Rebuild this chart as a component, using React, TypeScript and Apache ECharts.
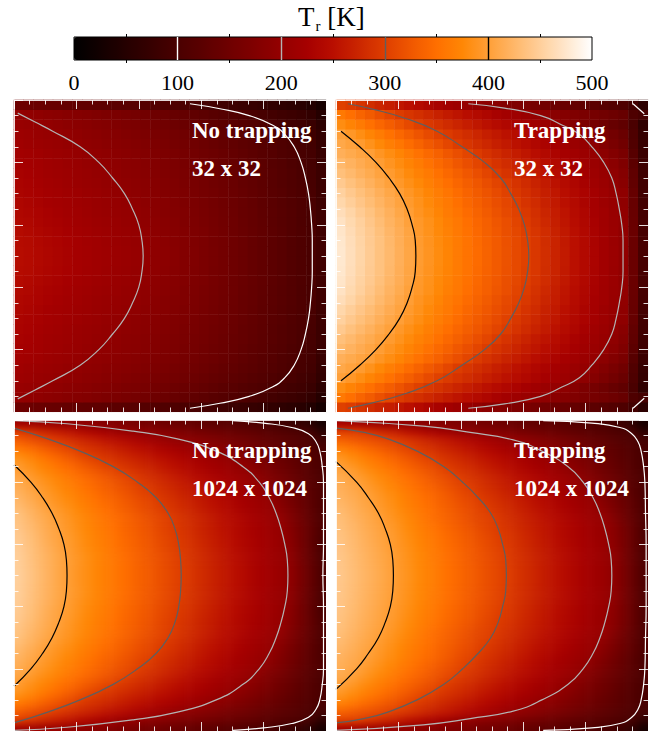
import React, { useEffect, useRef } from "react";
import * as echarts from "echarts";

// Colour table: evenly spaced from 0 K to 500 K
const paletteStops = ["#000000","#120000","#250000","#370000","#4a0000","#5c0000","#6f0000","#810000","#940000","#a60000","#b90e00","#cb2600","#de3e00","#f05700","#ff6f00","#ff8705","#ff9f37","#ffb769","#ffcf9b","#ffe7cd","#ffffff"];
const colorbarTicks = [0, 100, 200, 300, 400, 500];
const contourLevels = [100, 200, 300, 400];
const contourColors: Record<number, string> = { 100: "#ffffff", 200: "#b4b4b4", 300: "#5f5f5f", 400: "#000000" };
const panelLabels = [
  ["No trapping", "32 x 32"], ["Trapping", "32 x 32"],
  ["No trapping", "1024 x 1024"], ["Trapping", "1024 x 1024"],
];

// Upper half of each panel, rows from the edge towards the midplane.
const noTrapping32 = [
[148,146,144,141,139,136,133,131,129,126,124,121,118,115,112,108,105,101,98,94,90,86,82,78,74,70,66,62,58,54,45,30],
[199,196,193,190,187,183,180,177,173,170,166,162,158,154,149,145,140,135,130,125,120,115,110,105,100,96,91,86,81,76,68,50],
[206,203,200,197,194,190,187,184,180,177,173,170,166,162,157,153,148,143,139,134,129,124,119,114,110,105,100,95,90,85,78,60],
[213,210,206,203,200,196,193,190,187,183,180,176,172,168,164,160,155,151,146,141,136,131,126,122,117,112,107,102,97,91,84,68],
[216,213,210,207,204,200,197,194,191,187,184,181,177,173,169,165,160,155,151,146,141,136,131,126,122,117,112,107,101,96,89,72],
[221,218,215,211,208,205,201,198,195,192,188,185,181,177,173,169,165,160,155,150,146,141,136,130,125,120,115,109,104,98,92,76],
[225,222,219,215,212,208,205,202,198,195,192,188,185,181,177,172,168,163,158,153,148,143,138,133,128,123,117,112,106,100,94,79],
[228,225,221,217,214,211,207,204,200,197,194,190,187,183,179,174,170,165,160,155,150,145,140,135,130,125,119,114,108,102,95,81],
[230,227,223,220,217,213,209,206,203,199,196,192,189,185,181,176,172,167,162,157,152,147,142,136,131,126,120,114,109,103,96,82],
[232,229,226,222,219,215,212,208,205,201,198,195,191,187,183,178,174,169,164,159,154,149,144,138,133,127,121,116,110,104,97,83],
[235,232,228,224,221,218,214,211,207,204,201,197,194,190,185,181,176,171,166,161,155,150,145,139,134,128,122,117,111,105,98,84],
[237,234,231,227,224,220,216,213,209,206,203,200,196,192,187,182,178,173,168,163,157,152,146,140,135,129,123,118,112,106,99,85],
[240,237,233,229,226,222,218,215,211,208,205,202,198,194,189,184,180,174,170,164,158,153,147,141,136,130,124,118,112,106,99,86],
[243,240,236,232,229,225,221,218,214,211,207,204,200,196,191,186,182,176,171,166,160,154,148,142,137,131,125,119,113,107,100,87],
[245,242,238,234,231,227,223,220,216,213,209,206,202,198,193,188,183,177,172,166,160,155,149,143,137,131,125,119,113,107,100,87],
[246,243,239,235,232,228,224,221,217,214,210,207,203,199,194,189,184,178,173,167,161,155,149,143,137,131,125,119,113,107,100,88],
];
const trapping32 = [
[302,297,290,282,274,266,258,251,243,235,228,220,212,204,197,190,184,178,172,166,160,154,148,142,136,130,124,118,112,106,90,60],
[360,350,339,329,318,308,298,291,284,277,270,263,256,249,242,235,228,221,214,207,200,193,187,180,173,167,160,154,147,140,105,95],
[381,371,361,351,341,331,321,311,302,294,287,280,273,266,259,252,245,238,231,224,216,209,202,192,181,170,160,150,140,130,100,65],
[401,392,382,372,362,352,342,332,322,312,303,296,289,282,275,267,260,253,246,239,232,225,218,211,202,192,180,168,155,143,105,72],
[409,403,396,386,376,366,357,347,337,327,318,308,298,291,283,276,268,261,253,246,238,231,223,216,209,202,190,178,165,153,110,75],
[417,411,405,400,390,381,372,363,353,344,335,325,316,307,296,288,280,272,265,257,249,241,233,225,218,210,202,190,177,165,118,80],
[427,420,413,406,398,389,380,371,362,353,344,335,325,316,307,298,289,281,273,265,257,249,241,233,225,217,209,201,188,174,125,84],
[434,427,419,412,404,396,387,378,369,361,352,343,334,325,316,307,297,289,280,272,263,255,246,238,229,221,212,204,194,180,130,86],
[444,435,427,419,410,402,393,384,376,367,358,350,341,332,324,315,306,298,289,280,271,262,253,244,235,226,217,208,198,185,133,88],
[452,443,434,426,417,408,400,391,382,373,365,356,347,338,329,321,312,303,294,285,276,267,258,249,240,231,222,213,203,193,138,90],
[458,449,440,431,422,413,404,395,386,377,368,360,351,342,333,325,316,308,299,289,280,270,261,251,242,232,223,213,204,194,140,92],
[465,456,446,437,427,418,408,399,389,381,372,363,355,346,337,329,320,311,303,294,284,274,265,255,245,235,225,216,206,196,141,94],
[470,460,451,441,431,421,412,402,393,385,376,367,359,350,341,333,324,316,306,297,287,277,267,257,247,237,227,217,207,197,142,95],
[473,463,453,444,434,424,415,405,394,386,377,369,360,352,343,334,326,317,309,300,291,281,270,260,250,239,229,218,208,196,143,96],
[475,465,455,445,436,426,416,406,396,388,379,371,362,354,345,336,328,319,311,302,293,282,272,261,251,241,230,220,209,198,144,97],
[476,466,456,446,436,427,417,407,397,389,380,372,363,354,346,337,328,320,311,303,293,283,272,262,251,241,231,220,210,198,144,97],
];
const noTrapping1024 = [
[214,211,208,205,202,198,193,188,183,178,173,168,163,158,154,149,144,139,134,129,125,120,115,110,105,100,92,85,78,70,55,30],
[299,292,283,274,266,257,248,240,231,223,214,206,198,192,187,181,175,170,164,159,153,148,142,136,131,125,120,114,109,103,90,60],
[326,317,309,301,293,285,277,269,261,253,246,238,230,222,214,206,198,191,184,177,171,164,157,150,143,136,129,122,116,109,102,85],
[355,345,335,325,315,305,296,288,281,273,266,259,251,244,236,229,222,214,207,200,191,183,174,166,157,149,140,132,123,115,106,97],
[379,369,357,346,335,324,313,302,294,287,280,272,265,258,250,243,236,228,221,214,206,198,189,179,169,159,149,139,129,120,110,100],
[393,382,372,362,351,341,330,320,310,299,292,285,277,270,262,255,247,240,232,225,217,210,202,192,180,169,158,146,135,124,112,101],
[399,390,380,371,361,352,343,333,324,314,305,296,288,280,272,264,256,248,240,232,224,216,209,201,189,177,164,152,139,127,114,102],
[408,399,389,380,371,362,353,344,335,326,317,308,298,289,281,273,265,257,248,240,232,224,216,207,199,185,171,158,144,130,116,103],
[415,405,396,387,378,369,360,351,342,333,324,316,307,298,290,281,273,265,257,249,241,233,224,216,208,199,183,168,152,136,121,105],
[421,411,402,393,384,375,366,357,348,339,331,322,313,304,295,287,279,270,262,254,245,237,228,220,211,203,189,172,155,139,122,105],
[426,416,406,397,388,380,371,362,354,345,337,328,319,311,302,293,285,276,268,259,251,242,234,225,216,208,197,179,160,142,123,105],
[432,422,412,403,394,385,376,367,358,350,341,332,323,314,306,297,289,280,272,263,254,246,237,228,220,211,202,186,166,146,126,106],
[436,426,416,407,397,389,380,371,363,354,346,337,328,320,311,303,294,286,277,268,259,250,242,233,224,215,206,193,171,150,128,106],
[439,429,420,410,401,391,382,374,365,357,348,339,331,322,313,304,296,287,279,270,261,252,244,235,226,218,209,200,176,153,130,107],
[443,433,423,413,404,394,385,376,367,359,350,341,333,324,315,306,298,289,280,271,263,254,245,236,228,219,210,202,180,155,130,105],
[445,435,425,414,405,396,387,378,369,361,352,343,335,326,317,309,300,292,283,274,265,256,247,238,230,221,212,203,183,156,129,101],
[447,437,427,417,407,397,388,379,371,362,353,345,336,328,319,310,302,294,285,276,267,258,249,240,231,222,213,204,186,158,131,103],
[448,438,428,418,408,399,390,381,372,364,355,346,338,329,321,312,303,295,286,277,268,259,250,241,231,222,212,203,187,159,131,103],
[449,439,429,419,409,399,391,382,373,365,356,348,339,330,322,313,304,296,287,278,269,260,251,242,232,223,214,205,189,161,133,105],
[450,440,430,420,409,399,390,382,373,365,356,348,339,331,322,314,305,297,288,279,270,261,252,243,233,224,215,206,191,162,134,105],
];
const trapping1024 = [
[222,218,214,210,206,201,196,192,187,183,178,174,169,165,160,155,151,146,141,136,132,128,123,118,113,109,104,98,90,80,60,30],
[304,302,299,290,280,271,262,252,243,233,224,215,202,196,190,184,178,173,167,161,155,150,144,138,132,126,120,115,109,103,92,62],
[332,326,320,315,309,303,295,287,279,271,263,255,246,238,230,222,214,206,197,189,182,174,166,158,150,142,134,126,118,110,103,90],
[364,355,346,337,329,320,311,303,294,286,278,270,262,254,246,238,230,222,214,206,198,190,181,172,163,154,145,136,127,118,108,98],
[385,376,366,356,347,337,328,318,308,300,291,283,275,267,259,251,243,235,227,219,211,203,193,183,172,162,151,141,130,120,110,99],
[397,387,378,368,359,349,340,331,321,312,302,293,285,277,269,261,253,245,237,229,220,212,204,194,182,170,158,147,135,123,111,100],
[406,398,388,379,369,360,350,341,332,322,313,303,294,286,278,270,261,253,244,236,228,219,211,202,191,178,165,152,140,127,114,101],
[412,404,396,386,377,368,358,349,340,331,321,312,302,294,286,277,269,261,252,244,235,227,219,210,201,187,173,159,145,131,116,103],
[417,410,402,393,384,375,365,356,347,338,328,319,310,300,292,283,275,266,258,250,241,233,224,216,207,197,182,166,150,135,119,103],
[420,413,406,399,390,381,372,363,354,345,336,327,316,307,298,289,281,272,264,255,246,238,229,221,212,204,190,173,155,138,120,103],
[424,417,409,402,393,384,375,366,357,348,339,330,321,312,303,295,286,278,269,261,252,244,235,227,218,210,201,183,164,145,126,106],
[428,420,412,405,396,387,378,369,360,352,343,334,325,316,307,299,291,282,273,265,256,248,239,230,222,213,205,190,170,149,128,106],
[431,423,415,407,399,390,381,372,362,353,344,335,327,318,309,303,294,285,277,268,260,251,243,234,226,217,208,200,176,153,130,107],
[434,426,418,410,403,394,385,376,367,358,349,340,331,322,313,305,298,289,280,272,264,256,247,238,230,221,212,204,186,160,134,107],
[436,428,420,413,405,397,388,379,370,361,353,344,335,327,318,309,300,293,284,275,266,257,248,239,231,222,213,204,187,162,135,107],
[438,430,422,414,406,398,390,381,372,364,355,346,337,329,320,312,303,295,286,277,268,259,250,241,232,223,214,206,190,164,136,108],
[439,431,423,416,408,399,391,383,374,366,357,348,340,331,323,314,306,297,288,279,270,261,252,243,234,225,216,207,192,165,136,108],
[440,432,424,416,408,401,392,383,375,366,358,349,341,332,323,315,306,298,289,280,271,262,253,243,234,225,216,206,193,165,137,108],
[441,433,425,418,410,402,393,385,376,368,359,350,342,333,325,316,308,299,290,281,272,263,254,245,235,226,217,208,194,166,137,108],
[442,434,426,419,411,403,394,386,377,369,360,351,343,334,326,317,309,300,291,282,273,263,254,245,235,226,217,208,194,166,137,108],
];

// Isotherms in axis units as [x, distance from the midplane]; each curve is mirrored about y = 2.5.
const contoursNoTrapping32: Record<number, number[][]> = {
  100: [[4.78,0],[4.78,.25],[4.77,.5],[4.75,.75],[4.72,1],[4.67,1.25],[4.60,1.5],[4.49,1.75],[4.34,1.95],[4.14,2.1],[3.77,2.25],[3.30,2.36],[2.82,2.44]],
  200: [[2.07,0],[2.05,.25],[2.00,.5],[1.90,.75],[1.77,1],[1.58,1.25],[1.36,1.5],[1.06,1.75],[.62,2],[.33,2.15],[.06,2.29]],
};
const contoursTrapping32: Record<number, number[][]> = {
  100: [[4.76,2.44],[4.94,2.28]],
  200: [[4.60,0],[4.60,.25],[4.58,.5],[4.54,.75],[4.49,1],[4.42,1.25],[4.29,1.5],[4.10,1.75],[3.90,1.95],[3.62,2.1],[3.28,2.25],[2.70,2.37],[2.12,2.44]],
  300: [[3.09,0],[3.07,.25],[3.02,.5],[2.93,.75],[2.80,1],[2.64,1.25],[2.38,1.5],[2.02,1.75],[1.62,2],[1.13,2.2],[.60,2.35],[.19,2.44]],
  400: [[1.28,0],[1.27,.25],[1.22,.5],[1.14,.75],[1.02,1],[.85,1.25],[.64,1.5],[.38,1.75],[.08,2]],
};
const contoursNoTrapping1024: Record<number, number[][]> = {
  100: [[4.95,0],[4.96,.5],[4.96,1],[4.96,1.5],[4.94,1.75],[4.90,2],[4.84,2.15],[4.72,2.28],[4.45,2.38],[4.00,2.45],[3.51,2.49]],
  200: [[4.39,0],[4.38,.25],[4.34,.5],[4.28,.75],[4.20,1],[4.09,1.25],[3.93,1.5],[3.67,1.75],[3.24,2],[2.60,2.2],[1.91,2.32],[.85,2.44],[0,2.49]],
  300: [[2.68,0],[2.67,.25],[2.64,.5],[2.58,.75],[2.47,1],[2.28,1.25],[1.98,1.5],[1.59,1.75],[1.06,2],[.53,2.2],[0,2.37]],
  400: [[.85,0],[.84,.25],[.80,.5],[.72,.75],[.61,1],[.46,1.25],[.27,1.5],[0,1.78]],
};
const contoursTrapping1024: Record<number, number[][]> = {
  100: [[4.97,0],[4.97,.5],[4.96,1],[4.95,1.5],[4.93,1.75],[4.89,2],[4.84,2.15],[4.74,2.28],[4.55,2.38],[4.10,2.45],[3.32,2.49]],
  200: [[4.42,0],[4.41,.25],[4.37,.5],[4.31,.75],[4.23,1],[4.12,1.25],[3.96,1.5],[3.72,1.75],[3.30,2],[2.84,2.18],[2.15,2.3],[1.40,2.4],[0,2.49]],
  300: [[2.73,0],[2.72,.25],[2.67,.5],[2.60,.75],[2.48,1],[2.28,1.25],[2.03,1.5],[1.73,1.75],[1.30,2],[.82,2.2],[.45,2.3],[0,2.37]],
  400: [[.92,0],[.91,.25],[.87,.5],[.79,.75],[.68,1],[.52,1.25],[.33,1.5],[0,1.83]],
};

const panelGrids = [noTrapping32, trapping32, noTrapping1024, trapping1024];
const panelContours = [contoursNoTrapping32, contoursTrapping32, contoursNoTrapping1024, contoursTrapping1024];

const SERIF = "'Liberation Serif', 'Times New Roman', serif";
const PANEL_SIZE = 312;
const panelOrigins = [[14, 100], [336, 100], [14, 420], [336, 420]];
const HIGH_RES_PANELS = [2, 3];

const tickLine = { show: true, lineStyle: { color: "#ffffff", width: 1, opacity: 0.85 } };

function cellsOf(rows: number[][]) {
  const cells: number[][] = [];
  rows.forEach((r, j) => r.forEach((v, i) => cells.push([i, j, v])));
  return cells;
}

function buildOption() {
  const grid: any[] = [];
  const xAxis: any[] = [];
  const yAxis: any[] = [];
  const series: any[] = [];
  const graphic: any[] = [];

  panelGrids.forEach((half, p) => {
    const [left, top] = panelOrigins[p];
    grid.push({ left, top, width: PANEL_SIZE, height: PANEL_SIZE, containLabel: false });
    const rows = half.concat([...half].reverse());
    const base = xAxis.length;
    xAxis.push({ type: "category", gridIndex: p, show: false, data: half[0].map((_, i) => String(i)) });
    yAxis.push({ type: "category", gridIndex: p, show: false, data: rows.map((_, i) => String(i)) });
    const frame = {
      type: "value", gridIndex: p, min: 0, max: 5, interval: 1, z: 5,
      axisLine: { show: true, onZero: false, lineStyle: { color: "#ffffff", width: 1, opacity: 0.85 } },
      axisLabel: { show: false }, splitLine: { show: false },
      axisTick: { ...tickLine, inside: true, length: 9 },
      minorTick: { ...tickLine, splitNumber: 4, length: 4.5 },
    };
    xAxis.push({ ...frame, position: "bottom" }, { ...frame, position: "top" });
    yAxis.push({ ...frame, position: "left" }, { ...frame, position: "right" });
    if (!HIGH_RES_PANELS.includes(p)) {
      series.push({
        type: "heatmap", xAxisIndex: base, yAxisIndex: base, data: cellsOf(rows),
        progressive: 0, silent: true, z: 2, itemStyle: { borderWidth: 0 },
      });
    }
    panelLabels[p].forEach((label, k) => {
      graphic.push({
        type: "text", x: left + 178, y: top + 30 + k * 38, z: 20, silent: true,
        style: { text: label, fill: "#ffffff", fontFamily: SERIF, fontWeight: "bold", fontSize: 23, verticalAlign: "middle", align: "left" },
      });
    });
  });
  const heatmapCount = series.length;

  panelContours.forEach((contours, p) => {
    const axisIdx = p * 3 + 1;
    contourLevels.forEach((level) => {
      const curve = contours[level];
      if (!curve) return;
      const upper = curve.map(([x, d]) => [x, 2.5 + d]);
      const lower = curve.map(([x, d]) => [x, 2.5 - d]);
      const segments = curve[0][1] === 0 ? [[...upper].reverse().concat(lower.slice(1))] : [upper, lower];
      segments.forEach((seg) => {
        series.push({
          type: "line", name: `${level} K`, xAxisIndex: axisIdx, yAxisIndex: axisIdx, data: seg,
          showSymbol: false, symbol: "none", smooth: 0.5, clip: true, silent: true, z: 3,
          lineStyle: { color: contourColors[level], width: 1.2 },
        });
      });
    });
  });

  // colour bar axes
  const barGrid = grid.length;
  grid.push({ left: 74, top: 37, width: 518, height: 23, show: true, borderColor: "#000000", borderWidth: 1, backgroundColor: "transparent", z: 6 });
  const barColors = ["transparent", ...contourLevels.map((l) => contourColors[l]), "transparent"];
  xAxis.push({
    type: "value", gridIndex: barGrid, position: "bottom", min: 0, max: 500, interval: 100, z: 6,
    axisLine: { show: false }, axisTick: { show: false },
    axisLabel: { show: true, margin: 11, color: "#000000", fontFamily: SERIF, fontSize: 22, customValues: colorbarTicks },
    splitLine: { show: true, lineStyle: { color: barColors, width: 1.4 } },
    minorTick: { show: true, splitNumber: 2, length: 3, lineStyle: { color: "#000000" } },
  });
  xAxis.push({
    type: "value", gridIndex: barGrid, position: "top", min: 0, max: 500, interval: 100, z: 6,
    axisLine: { show: false }, axisTick: { show: false }, axisLabel: { show: false }, splitLine: { show: false },
    minorTick: { show: true, splitNumber: 2, length: 3, lineStyle: { color: "#000000" } },
  });
  yAxis.push({ type: "value", gridIndex: barGrid, show: false, min: 0, max: 1 });

  return {
    animation: false,
    backgroundColor: "transparent",
    title: {
      text: "{t|T}{s|r}{t| [K]}", left: 298, top: 0, padding: 0,
      textStyle: {
        rich: {
          t: { fontFamily: SERIF, fontSize: 27, fontWeight: "normal", color: "#000000", lineHeight: 33 },
          s: { fontFamily: SERIF, fontSize: 15, fontWeight: "normal", color: "#000000", verticalAlign: "bottom", lineHeight: 33, padding: [10, 0, 0, 1] },
        },
      },
    },
    visualMap: {
      type: "continuous", min: 0, max: 500, orient: "horizontal", left: 74, top: 37,
      itemWidth: 23, itemHeight: 518, padding: 0, text: null, showLabel: false, calculable: false, hoverLink: false,
      seriesIndex: Array.from({ length: heatmapCount }, (_, i) => i), z: 1, inRange: { color: paletteStops },
    },
    grid, xAxis, yAxis, series, graphic,
  };
}

// The high-resolution panels are smooth: their cells are drawn in a chart of their own, softened by a
// CSS blur, with the edge rows and columns repeated beyond the clipped panel so that the edges stay opaque.
const EDGE_REPEAT = 2;
const CELL_W = PANEL_SIZE / 32;
const CELL_H = PANEL_SIZE / 40;

function SmoothPanel({ half, left, top }: { half: number[][]; left: number; top: number }) {
  const ref = useRef<HTMLDivElement>(null);
  useEffect(() => {
    const edgeTop = Array(EDGE_REPEAT).fill(half[0]);
    const rows = [...edgeTop, ...half, ...[...half].reverse(), ...edgeTop].map((r: number[]) => [
      ...Array(EDGE_REPEAT).fill(r[0]), ...r, ...Array(EDGE_REPEAT).fill(r[r.length - 1]),
    ]);
    const chart = echarts.init(ref.current!, undefined, { renderer: "svg" });
    chart.setOption({
      animation: false,
      grid: { left: 0.5, top: 0.4, width: rows[0].length * CELL_W, height: rows.length * CELL_H },
      xAxis: { type: "category", show: false, data: rows[0].map((_: number, i: number) => String(i)) },
      yAxis: { type: "category", show: false, data: rows.map((_: number[], i: number) => String(i)) },
      visualMap: { show: false, type: "continuous", min: 0, max: 500, inRange: { color: paletteStops } },
      series: [{ type: "heatmap", data: cellsOf(rows), progressive: 0, silent: true, itemStyle: { borderWidth: 0 } }],
    } as any);
    return () => chart.dispose();
  }, [half]);
  return (
    <div style={{ position: "absolute", left, top, width: PANEL_SIZE, height: PANEL_SIZE, overflow: "hidden" }}>
      <div ref={ref} style={{ position: "absolute", left: -20, top: -16, width: 352, height: 344, filter: "blur(3.5px)" }} />
    </div>
  );
}

export default function App() {
  const ref = useRef<HTMLDivElement>(null);
  useEffect(() => {
    const chart = echarts.init(ref.current!, undefined, { renderer: "svg" });
    chart.setOption(buildOption() as any);
    return () => chart.dispose();
  }, []);
  return (
    <div style={{ position: "absolute", left: 0, top: 0, width: 659, height: 731, overflow: "hidden" }}>
      {HIGH_RES_PANELS.map((p) => (
        <SmoothPanel key={p} half={panelGrids[p]} left={panelOrigins[p][0]} top={panelOrigins[p][1]} />
      ))}
      <div ref={ref} style={{ position: "absolute", left: 0, top: 0, width: 659, height: 731 }} />
    </div>
  );
}
